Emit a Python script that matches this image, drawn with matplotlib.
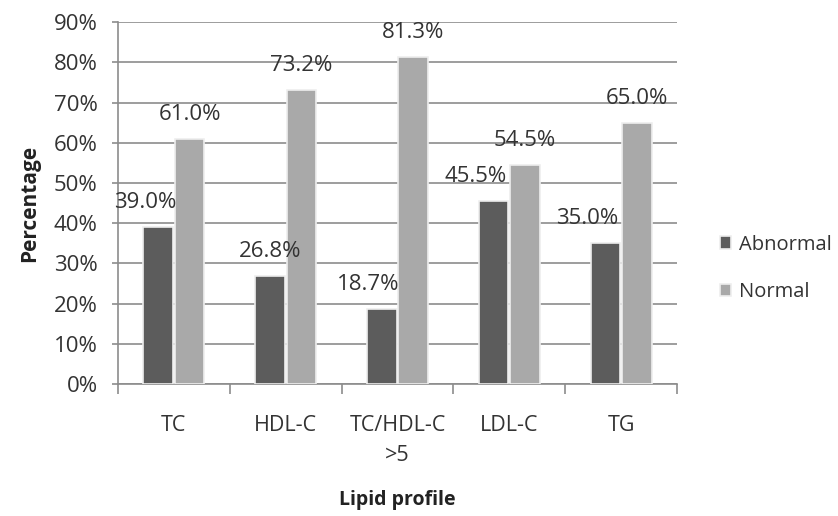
import numpy as np
import matplotlib
matplotlib.use("Agg")
import matplotlib.pyplot as plt
from matplotlib.ticker import FixedLocator, PercentFormatter

categories = ["TC", "HDL-C", "TC/HDL-C\n>5", "LDL-C", "TG"]
abnormal = [39.0, 26.8, 18.7, 45.5, 35.0]
normal = [61.0, 73.2, 81.3, 54.5, 65.0]
series_names = ["Abnormal", "Normal"]
# horizontal nudges of the data labels (points), as in the original
abn_label_dx = [-9, 0, -10, -13, -13]
nor_label_dx = [0, 0, 0, 0, 0]

plt.rcParams["font.family"] = ["Open Sans", "DejaVu Sans"]

fig = plt.figure(figsize=(8.38, 5.16), dpi=100)
ax = fig.add_axes([0.1408, 0.2558, 0.8079 - 0.1408, 0.957 - 0.2558])

x = np.arange(len(categories))
w = 0.265
grid_c = "#8c8c8c"
txt_c = "#333333"
b1 = ax.bar(x - 0.14, abnormal, w, color="#5c5c5c", edgecolor="#eeeeee", lw=1.2,
            label=series_names[0], zorder=3)
b2 = ax.bar(x + 0.14, normal, w, color="#a9a9a9", edgecolor="#eeeeee", lw=1.2,
            label=series_names[1], zorder=3)

for bars, vals, dxs in [(b1, abnormal, abn_label_dx), (b2, normal, nor_label_dx)]:
    for b, v, dx in zip(bars, vals, dxs):
        ax.annotate(f"{v:.1f}%", (b.get_x() + b.get_width() / 2, v),
                    xytext=(dx, 17.5), textcoords="offset points",
                    ha="center", va="center", fontsize=16, color=txt_c, zorder=4)

ax.set_xlim(-0.5, len(categories) - 0.5)
ax.set_ylim(0, 90)
ax.set_yticks(np.arange(0, 91, 10))
ax.yaxis.set_major_formatter(PercentFormatter(decimals=0))
ax.set_xticks(x)
ax.set_xticklabels(categories, linespacing=1.6)
ax.xaxis.set_minor_locator(FixedLocator(np.arange(-0.5, len(categories), 1)))
ax.tick_params(axis="x", which="major", length=0, pad=22, labelsize=15.5, labelcolor=txt_c)
ax.tick_params(axis="x", which="minor", length=7, color=grid_c, width=1.2)
ax.tick_params(axis="y", length=4.5, color=grid_c, width=1.2, labelsize=16, labelcolor=txt_c, pad=10)

ax.grid(axis="y", color=grid_c, lw=1.2, zorder=0)
for s in ["top", "right"]:
    ax.spines[s].set_visible(False)
for s in ["left", "bottom"]:
    ax.spines[s].set_color(grid_c)
    ax.spines[s].set_linewidth(1.2)

ax.set_ylabel("Percentage", fontsize=15, fontweight="bold", labelpad=10, color="#222222")
ax.set_xlabel("Lipid profile", fontsize=14, fontweight="bold", labelpad=17, color="#222222")

leg = ax.legend(loc="center left", bbox_to_anchor=(1.045, 0.32), frameon=False,
                fontsize=14.5, handlelength=0.55, handleheight=0.55, handletextpad=0.4,
                labelspacing=1.35)
for t in leg.get_texts():
    t.set_color(txt_c)

fig.savefig("out.png", dpi=100)
